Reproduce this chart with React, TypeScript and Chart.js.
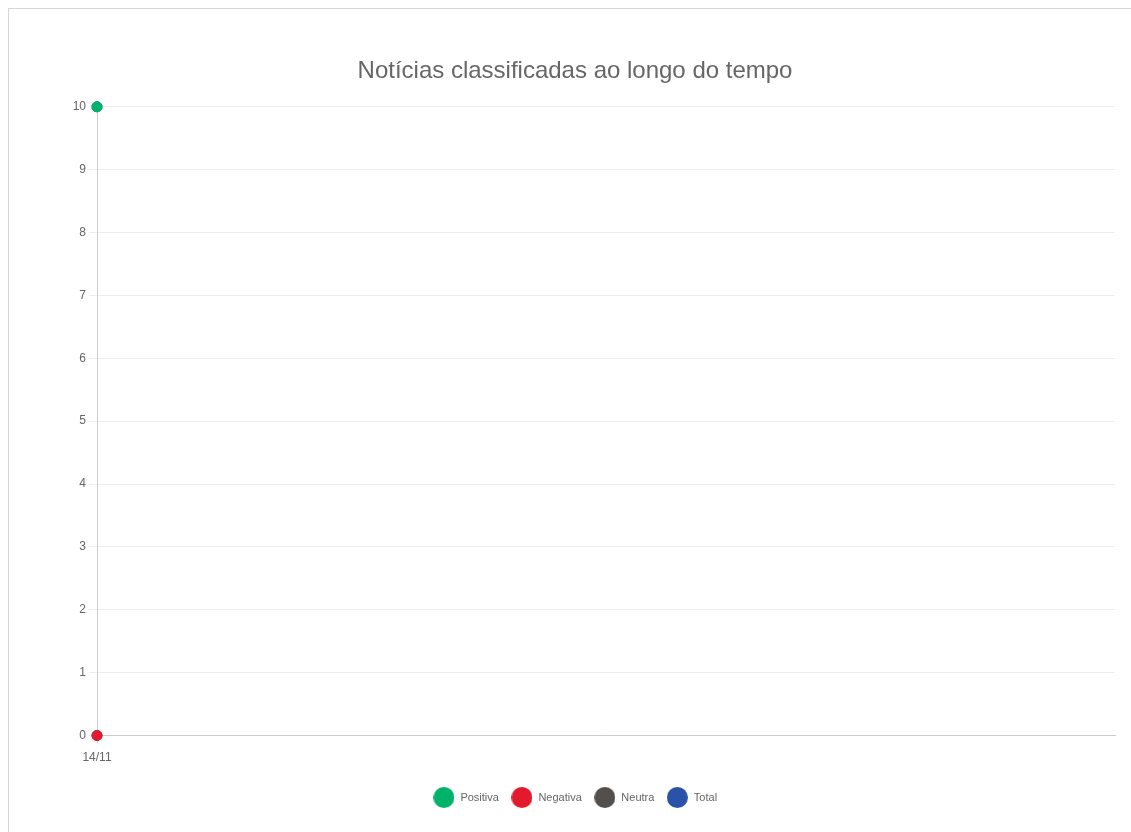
import React, { useEffect, useRef } from "react";
import { Chart, registerables } from "chart.js";

Chart.register(...registerables);

const categories: string[] = ["14/11"];
const positiva: number[] = [10];
const negativa: number[] = [0];
const neutra: number[] = [0];
const total: number[] = [10];
const seriesNames: string[] = ["Positiva", "Negativa", "Neutra", "Total"];
const seriesColors: string[] = ["#00b36b", "#e3192d", "#524f4d", "#2a52a8"];
const titleText = "Notícias classificadas ao longo do tempo";

function circleImage(color: string, d: number): HTMLCanvasElement {
  const c = document.createElement("canvas");
  c.width = d;
  c.height = d;
  const g = c.getContext("2d")!;
  g.fillStyle = color;
  g.beginPath();
  g.arc(d / 2, d / 2, d / 2, 0, Math.PI * 2);
  g.fill();
  return c;
}

export default function App() {
  const ref = useRef<HTMLCanvasElement | null>(null);

  useEffect(() => {
    document.documentElement.style.overflow = "hidden";
    if (!ref.current) return;
    Chart.defaults.font.family = "'Liberation Sans', Arial, sans-serif";
    const values = [positiva, negativa, neutra, total];
    const imgs = seriesColors.map((c) => circleImage(c, 21));
    const chart = new Chart(ref.current, {
      type: "line",
      data: {
        labels: categories,
        datasets: seriesNames.map((name, i) => ({
          label: name,
          data: values[i],
          borderColor: seriesColors[i],
          backgroundColor: seriesColors[i],
          pointBackgroundColor: seriesColors[i],
          pointBorderColor: seriesColors[i],
          pointRadius: 5,
          pointBorderWidth: 1,
          borderWidth: 2,
          fill: false,
          clip: false,
        })),
      },
      options: {
        animation: false,
        responsive: true,
        maintainAspectRatio: false,
        layout: { padding: { left: 16, right: 16, top: 0, bottom: 6 } },
        plugins: {
          title: {
            display: true,
            text: titleText,
            color: "#666",
            font: { size: 24, weight: "normal" },
            padding: { top: 38, bottom: 21 },
          },
          legend: {
            position: "bottom",
            labels: {
              usePointStyle: true,
              pointStyleWidth: 22,
              padding: 12,
              color: "#666",
              font: { size: 11 },
              generateLabels: (ch: any) =>
                ch.data.datasets.map((ds: any, i: number) => ({
                  text: ds.label,
                  pointStyle: imgs[i],
                  fillStyle: ds.backgroundColor,
                  strokeStyle: ds.borderColor,
                  fontColor: "#666",
                  lineWidth: 0,
                  hidden: !ch.isDatasetVisible(i),
                  datasetIndex: i,
                })),
            },
          },
          tooltip: { enabled: false },
        },
        scales: {
          x: {
            afterFit: (scale: any) => {
              scale.height = 44.5;
            },
            grid: { color: "#dcdcdc", tickLength: 8 },
            border: { color: "#cccccc" },
            ticks: { color: "#666", font: { size: 12 }, padding: 7 },
          },
          y: {
            min: 0,
            max: 10,
            afterFit: (scale: any) => {
              scale.width = 62;
            },
            grid: { color: "rgba(0,0,0,0.07)", tickLength: 8 },
            border: { color: "#cccccc" },
            ticks: { stepSize: 1, color: "#666", font: { size: 12 }, padding: 3 },
          },
        },
      },
    });
    return () => chart.destroy();
  }, []);

  return (
    <div
      style={{
        position: "fixed",
        left: 8,
        top: 8,
        width: 1140,
        height: 840,
        border: "1px solid #d6d6d6",
        boxSizing: "border-box",
        background: "#fff",
      }}
    >
      <div style={{ position: "absolute", left: 10, top: 10, width: 1112, height: 800 }}>
        <canvas ref={ref} />
      </div>
    </div>
  );
}
